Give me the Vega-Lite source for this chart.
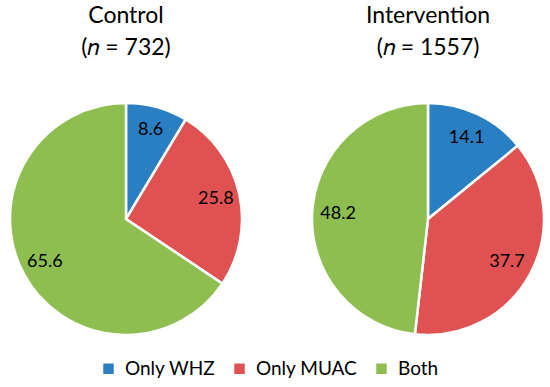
{
  "$schema": "https://vega.github.io/schema/vega-lite/v6.json",
  "background": "white",
  "padding": 5,
  "config": {
    "view": {"stroke": null},
    "font": "Lato",
    "title": {"fontSize": 23, "fontWeight": "normal", "color": "#000000", "lineHeight": 32, "anchor": "middle", "offset": 38},
    "legend": {"orient": "none", "legendX": 94, "legendY": 261, "direction": "horizontal", "title": null, "symbolType": "square", "symbolSize": 110, "symbolStrokeWidth": 0, "labelFontSize": 19, "labelColor": "#000000", "labelOffset": 7, "columnPadding": 14}
  },
  "datasets": {
    "pies": [
      {"group": "Control", "category": "Only WHZ", "value": 8.6, "rank": 1},
      {"group": "Control", "category": "Only MUAC", "value": 25.8, "rank": 2},
      {"group": "Control", "category": "Both", "value": 65.6, "rank": 3},
      {"group": "Intervention", "category": "Only WHZ", "value": 14.1, "rank": 1},
      {"group": "Intervention", "category": "Only MUAC", "value": 37.7, "rank": 2},
      {"group": "Intervention", "category": "Both", "value": 48.2, "rank": 3}
    ]
  },
  "spacing": 60,
  "resolve": {"scale": {"theta": "independent", "color": "shared"}},
  "hconcat": [
    {
      "width": 242,
      "height": 242,
      "title": {"text": ["Control", "(𝑛 = 732)"]},
      "data": {"name": "pies"},
      "transform": [{"filter": "datum.group === 'Control'"}],
      "encoding": {
        "theta": {"field": "value", "type": "quantitative", "stack": true},
        "order": {"field": "rank", "type": "quantitative"},
        "color": {
          "field": "category", "type": "nominal",
          "scale": {"domain": ["Only WHZ", "Only MUAC", "Both"], "range": ["#2A7FC2", "#E05252", "#8DBE4F"]},
          "sort": ["Only WHZ", "Only MUAC", "Both"]
        }
      },
      "layer": [
        {"mark": {"type": "arc", "outerRadius": 116, "stroke": "white", "strokeWidth": 2.5}},
        {"mark": {"type": "text", "radius": 92, "fontSize": 18},
         "encoding": {"color": {"value": "#000000"}, "text": {"field": "value", "type": "quantitative", "format": ".1f"}}}
      ]
    },
    {
      "width": 242,
      "height": 242,
      "title": {"text": ["Intervention", "(𝑛 = 1557)"]},
      "data": {"name": "pies"},
      "transform": [{"filter": "datum.group === 'Intervention'"}],
      "encoding": {
        "theta": {"field": "value", "type": "quantitative", "stack": true},
        "order": {"field": "rank", "type": "quantitative"},
        "color": {
          "field": "category", "type": "nominal",
          "scale": {"domain": ["Only WHZ", "Only MUAC", "Both"], "range": ["#2A7FC2", "#E05252", "#8DBE4F"]},
          "sort": ["Only WHZ", "Only MUAC", "Both"]
        }
      },
      "layer": [
        {"mark": {"type": "arc", "outerRadius": 116, "stroke": "white", "strokeWidth": 2.5}},
        {"mark": {"type": "text", "radius": 90, "fontSize": 18},
         "encoding": {"color": {"value": "#000000"}, "text": {"field": "value", "type": "quantitative", "format": ".1f"}}}
      ]
    }
  ]
}
